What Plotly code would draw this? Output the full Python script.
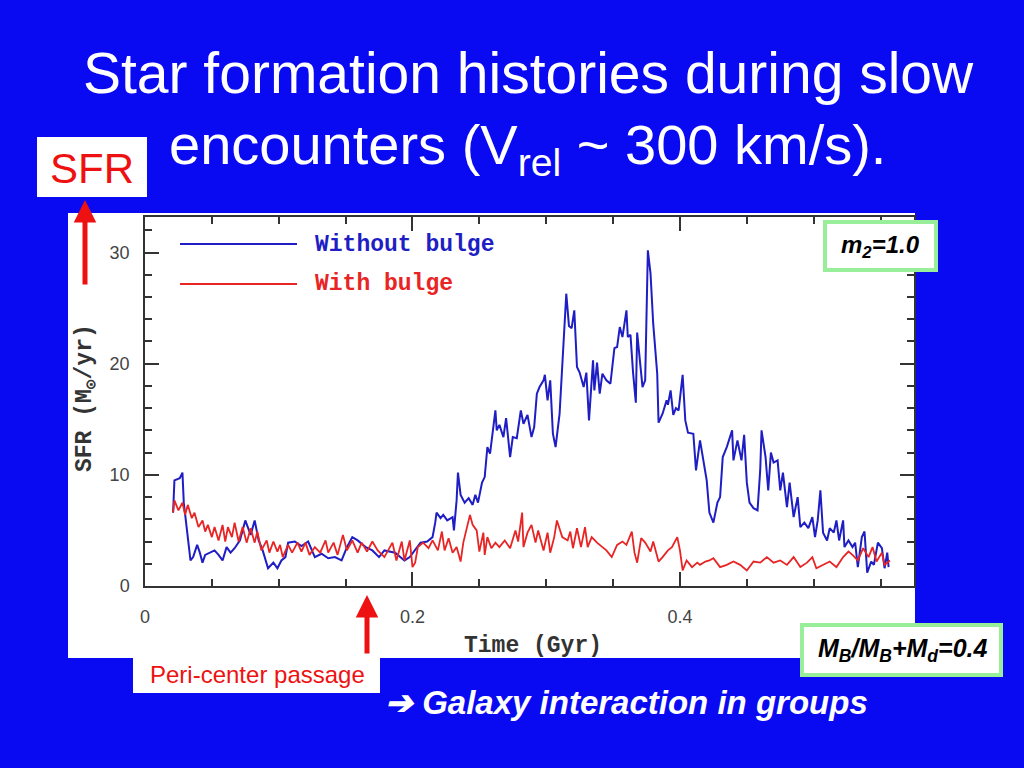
import plotly.graph_objects as go

# ---------------- data ----------------
time_no_bulge = [0.021, 0.022, 0.026, 0.028, 0.029, 0.031, 0.034, 0.036, 0.039, 0.041, 0.043, 0.045,
                 0.049, 0.052, 0.055, 0.058, 0.061, 0.064, 0.067, 0.071, 0.075, 0.079, 0.082, 0.085,
                 0.088, 0.090, 0.092, 0.096, 0.099, 0.102, 0.105, 0.107, 0.112, 0.117, 0.122, 0.127,
                 0.132, 0.137, 0.142, 0.147, 0.151, 0.155, 0.159, 0.165, 0.170, 0.175, 0.179, 0.187,
                 0.194, 0.198, 0.202, 0.206, 0.211, 0.215, 0.217, 0.218, 0.221, 0.223, 0.226, 0.230,
                 0.231, 0.233, 0.234, 0.236, 0.239, 0.242, 0.245, 0.247, 0.249, 0.252, 0.254, 0.256,
                 0.258, 0.259, 0.262, 0.263, 0.265, 0.268, 0.270, 0.273, 0.275, 0.278, 0.281, 0.283,
                 0.286, 0.289, 0.291, 0.293, 0.295, 0.298, 0.299, 0.301, 0.303, 0.305, 0.307, 0.310,
                 0.313, 0.315, 0.317, 0.319, 0.321, 0.323, 0.325, 0.328, 0.330, 0.332, 0.335, 0.336,
                 0.338, 0.340, 0.342, 0.345, 0.348, 0.351, 0.353, 0.355, 0.357, 0.360, 0.361, 0.363,
                 0.365, 0.367, 0.368, 0.370, 0.372, 0.374, 0.376, 0.378, 0.380, 0.383, 0.384, 0.387,
                 0.390, 0.391, 0.393, 0.395, 0.397, 0.399, 0.402, 0.404, 0.406, 0.410, 0.412, 0.415,
                 0.417, 0.420, 0.422, 0.425, 0.428, 0.430, 0.432, 0.435, 0.439, 0.440, 0.443, 0.446,
                 0.448, 0.450, 0.452, 0.455, 0.458, 0.460, 0.461, 0.464, 0.466, 0.468, 0.470, 0.473,
                 0.475, 0.477, 0.480, 0.482, 0.485, 0.488, 0.490, 0.493, 0.496, 0.499, 0.501, 0.503,
                 0.505, 0.507, 0.510, 0.512, 0.515, 0.517, 0.519, 0.522, 0.523, 0.526, 0.529, 0.531,
                 0.533, 0.536, 0.538, 0.540, 0.543, 0.545, 0.548, 0.551, 0.553, 0.555, 0.556]
sfr_no_bulge = [6.6, 9.5, 9.7, 10.2, 7.5, 5.3, 2.3, 2.6, 3.7, 3.0, 2.1, 2.8,
                3.0, 3.2, 2.8, 2.3, 3.5, 3.0, 3.4, 4.1, 5.9, 4.6, 5.9, 4.1,
                3.2, 2.3, 1.6, 2.1, 1.6, 2.3, 2.6, 3.9, 4.0, 3.6, 4.0, 2.6,
                2.9, 2.5, 2.6, 2.3, 3.5, 4.4, 4.1, 3.5, 3.2, 2.6, 3.2, 3.0,
                2.3, 2.6, 3.2, 3.9, 4.0, 4.4, 5.7, 6.6, 6.1, 6.4, 5.9, 6.2,
                5.0, 7.7, 10.2, 8.2, 7.5, 7.9, 7.3, 8.2, 7.5, 9.3, 9.8, 12.5,
                11.9, 12.8, 15.8, 14.0, 14.5, 13.4, 15.1, 11.6, 13.4, 13.3, 15.8, 14.6,
                15.4, 13.4, 14.3, 17.3, 17.9, 18.5, 19.0, 16.7, 18.5, 13.7, 12.5, 15.5,
                22.1, 26.3, 23.4, 23.2, 24.8, 19.7, 19.2, 17.9, 19.2, 14.9, 20.3, 17.6,
                20.1, 17.3, 19.1, 18.5, 18.2, 21.4, 21.5, 23.3, 22.4, 24.8, 22.4, 22.6,
                19.1, 16.5, 22.8, 20.6, 17.9, 18.5, 30.2, 28.1, 23.6, 19.1, 14.7, 15.5,
                16.7, 16.3, 17.6, 15.4, 16.0, 15.8, 19.0, 14.9, 13.8, 13.7, 10.4, 13.1,
                11.6, 9.5, 6.6, 5.7, 7.5, 8.0, 11.6, 12.5, 14.0, 11.3, 13.1, 11.3,
                13.6, 9.3, 7.5, 7.0, 6.8, 10.4, 14.0, 11.6, 8.6, 12.0, 11.1, 11.3,
                8.6, 10.2, 7.1, 9.3, 6.2, 8.0, 5.3, 5.7, 5.2, 6.2, 4.4, 5.9,
                8.6, 4.8, 4.1, 5.2, 4.8, 5.9, 4.1, 5.9, 3.5, 4.1, 3.5, 3.9,
                1.7, 4.4, 4.9, 1.2, 2.2, 1.9, 3.9, 3.4, 1.6, 3.0, 1.7]

time_bulge = [0.021, 0.022, 0.025, 0.028, 0.030, 0.032, 0.035, 0.037, 0.040, 0.043, 0.045, 0.047,
              0.050, 0.052, 0.055, 0.058, 0.060, 0.062, 0.065, 0.067, 0.070, 0.073, 0.076, 0.079,
              0.082, 0.084, 0.087, 0.091, 0.093, 0.096, 0.099, 0.101, 0.103, 0.107, 0.110, 0.114,
              0.117, 0.120, 0.123, 0.127, 0.131, 0.135, 0.137, 0.141, 0.144, 0.148, 0.151, 0.155,
              0.159, 0.162, 0.166, 0.170, 0.174, 0.179, 0.185, 0.188, 0.192, 0.194, 0.198, 0.200,
              0.202, 0.204, 0.208, 0.212, 0.215, 0.219, 0.222, 0.224, 0.227, 0.230, 0.233, 0.236,
              0.238, 0.241, 0.243, 0.245, 0.248, 0.250, 0.253, 0.254, 0.256, 0.259, 0.262, 0.265,
              0.269, 0.273, 0.277, 0.279, 0.282, 0.283, 0.286, 0.289, 0.292, 0.294, 0.298, 0.301,
              0.303, 0.306, 0.308, 0.312, 0.316, 0.318, 0.320, 0.323, 0.326, 0.329, 0.331, 0.334,
              0.338, 0.342, 0.345, 0.349, 0.353, 0.357, 0.360, 0.364, 0.366, 0.368, 0.371, 0.374,
              0.378, 0.380, 0.384, 0.387, 0.391, 0.394, 0.398, 0.400, 0.402, 0.405, 0.409, 0.413,
              0.415, 0.419, 0.422, 0.425, 0.430, 0.435, 0.440, 0.445, 0.450, 0.455, 0.460, 0.465,
              0.470, 0.475, 0.480, 0.485, 0.490, 0.495, 0.499, 0.502, 0.507, 0.512, 0.517, 0.522,
              0.526, 0.529, 0.533, 0.537, 0.541, 0.544, 0.547, 0.551, 0.553, 0.557]
sfr_bulge = [6.6, 7.7, 6.8, 7.5, 6.4, 7.3, 6.1, 6.6, 5.3, 5.9, 4.9, 5.5,
             4.4, 5.3, 4.1, 5.5, 4.0, 5.3, 4.4, 5.7, 4.0, 5.3, 3.9, 5.2,
             3.9, 4.9, 3.2, 4.1, 3.0, 4.0, 3.1, 3.7, 2.6, 3.7, 3.0, 3.9,
             3.1, 3.9, 2.8, 3.5, 3.0, 4.1, 3.0, 3.9, 2.8, 4.6, 3.2, 4.1,
             3.0, 3.9, 3.1, 4.0, 3.2, 2.6, 3.9, 2.3, 4.0, 2.3, 4.1, 1.7,
             2.1, 3.5, 3.9, 3.4, 4.1, 3.2, 4.9, 3.2, 4.3, 3.0, 3.5, 2.2,
             3.9, 5.3, 6.4, 5.5, 5.0, 3.1, 4.8, 2.8, 4.4, 3.4, 3.9, 3.5,
             4.1, 3.4, 5.0, 4.0, 6.6, 3.5, 4.8, 5.5, 3.9, 5.0, 3.2, 4.8,
             3.0, 4.4, 5.9, 4.4, 4.1, 4.9, 3.4, 5.2, 3.5, 5.3, 3.5, 4.4,
             3.9, 3.5, 3.2, 2.6, 3.7, 4.0, 3.7, 4.9, 3.0, 2.1, 4.3, 3.9,
             3.1, 4.0, 2.2, 2.6, 3.2, 3.5, 4.4, 3.2, 1.4, 2.3, 1.7, 2.1,
             1.9, 2.2, 2.3, 2.5, 1.7, 1.9, 2.2, 1.9, 1.4, 2.2, 2.1, 2.6,
             2.1, 2.3, 1.9, 2.6, 1.7, 2.1, 2.6, 1.6, 1.9, 2.2, 1.7, 2.6,
             3.1, 2.8, 2.3, 3.4, 2.6, 3.5, 2.2, 3.0, 1.9, 2.3]

series_names = ["Without bulge", "With bulge"]
series_colors = ["#1e1ec4", "#e82424"]
x_tick_vals = [0, 0.2, 0.4]
x_tick_text = ["0", "0.2", "0.4"]
y_tick_vals = [0, 10, 20, 30]
y_tick_text = ["0", "10", "20", "30"]

# ---------------- layout helpers (pixel -> paper) ----------------
W, H = 1024, 768
L, R, T, B = 145, 914, 217, 586
def px(x):
    return (x - L) / (R - L)
def py(y):
    return (B - y) / (B - T)

BG = "#0a0af2"
AX = "#333333"

fig = go.Figure()
fig.add_trace(go.Scatter(x=time_no_bulge, y=sfr_no_bulge, mode="lines", name=series_names[0],
                         line=dict(color=series_colors[0], width=2), showlegend=False))
fig.add_trace(go.Scatter(x=time_bulge, y=sfr_bulge, mode="lines", name=series_names[1],
                         line=dict(color=series_colors[1], width=1.8), showlegend=False))

axis_common = dict(showline=True, linecolor=AX, linewidth=1.5, mirror="ticks",
                   ticks="inside", tickcolor=AX, tickwidth=1.5, ticklen=14,
                   showgrid=False, zeroline=False,
                   tickfont=dict(family="Liberation Sans, Arial", size=18, color="#444444"))

fig.update_xaxes(range=[0, 0.575], tickvals=x_tick_vals, ticktext=x_tick_text,
                 minor=dict(dtick=0.05, ticks="inside", ticklen=7, tickcolor=AX, tickwidth=1.5),
                 ticklabelstandoff=14, **axis_common)
fig.update_yaxes(range=[0, 33.2], tickvals=y_tick_vals, ticktext=y_tick_text,
                 minor=dict(dtick=2, ticks="inside", ticklen=7, tickcolor=AX, tickwidth=1.5),
                 ticklabelstandoff=10, **axis_common)

shapes = [
    # white picture background
    dict(type="rect", xref="paper", yref="paper", x0=px(68), x1=px(915), y0=py(658), y1=py(213),
         fillcolor="white", line=dict(width=0), layer="below"),
    # legend samples
    dict(type="line", xref="paper", yref="paper", x0=px(180), x1=px(297), y0=py(244), y1=py(244),
         line=dict(color=series_colors[0], width=1.8)),
    dict(type="line", xref="paper", yref="paper", x0=px(180), x1=px(297), y0=py(284), y1=py(284),
         line=dict(color=series_colors[1], width=1.8)),
    # SFR box
    dict(type="rect", xref="paper", yref="paper", x0=px(37), x1=px(147), y0=py(197), y1=py(137),
         fillcolor="white", line=dict(width=0)),
    # Peri-center box
    dict(type="rect", xref="paper", yref="paper", x0=px(133), x1=px(380), y0=py(693), y1=py(657),
         fillcolor="white", line=dict(width=0)),
    # m2 box
    dict(type="rect", xref="paper", yref="paper", x0=px(825), x1=px(936), y0=py(270), y1=py(222),
         fillcolor="white", line=dict(color="#99ee99", width=4), layer="above"),
    # MB box
    dict(type="rect", xref="paper", yref="paper", x0=px(802), x1=px(1001), y0=py(675), y1=py(625),
         fillcolor="white", line=dict(color="#99ee99", width=4), layer="above"),
]

mono = "Liberation Mono, Courier New, monospace"
sans = "Liberation Sans, Arial"
annots = [
    dict(text="Star formation histories during slow", x=px(528), y=py(73),
         font=dict(family=sans, size=57, color="white")),
    dict(text="encounters (V<sub>rel</sub> ~ 300 km/s).", x=px(527), y=py(148),
         font=dict(family=sans, size=56, color="white")),
    dict(text="SFR", x=px(92), y=py(168), font=dict(family=sans, size=42, color="#ee1111")),
    dict(text="<b>" + series_names[0] + "</b>", x=px(313), y=py(245), xanchor="left",
         font=dict(family=mono, size=23, color=series_colors[0])),
    dict(text="<b>" + series_names[1] + "</b>", x=px(313), y=py(284), xanchor="left",
         font=dict(family=mono, size=23, color=series_colors[1])),
    dict(text="<b>Time (Gyr)</b>", x=px(533), y=py(646),
         font=dict(family=mono, size=23, color="#333333")),
    dict(text="<b>SFR (M<sub>⊙</sub>/yr)</b>", x=px(86), y=py(398), textangle=-90,
         font=dict(family=mono, size=23, color="#333333")),
    dict(text="<b><i>m<sub>2</sub>=1.0</i></b>", x=px(880), y=py(246),
         font=dict(family=sans, size=24, color="black")),
    dict(text="<b><i>M<sub>B</sub>/M<sub>B</sub>+M<sub>d</sub>=0.4</i></b>", x=px(902), y=py(650),
         font=dict(family=sans, size=25, color="black")),
    dict(text="Peri-center passage", x=px(257), y=py(674),
         font=dict(family=sans, size=24, color="#ee1111")),
    dict(text="<b><i>➔ Galaxy interaction in groups</i></b>", x=px(626), y=py(702),
         font=dict(family=sans, size=33, color="white")),
    # arrows
    dict(text="", x=px(85), y=py(200), ax=0, ay=86, showarrow=True, arrowhead=2,
         arrowsize=0.9, arrowwidth=5, arrowcolor="#ee1111"),
    dict(text="", x=px(367), y=py(595), ax=0, ay=60, showarrow=True, arrowhead=2,
         arrowsize=0.9, arrowwidth=5, arrowcolor="#ee1111"),
]
for a in annots:
    a.setdefault("xref", "paper")
    a.setdefault("yref", "paper")
    a.setdefault("showarrow", False)
    a.setdefault("xanchor", "center")
    a.setdefault("yanchor", "middle")

fig.update_layout(width=W, height=H, autosize=False,
                  margin=dict(l=L, r=W - R, t=T, b=H - B, pad=0),
                  paper_bgcolor=BG, plot_bgcolor="white",
                  shapes=shapes, annotations=annots, showlegend=False)

fig.write_html("out.html", config={"displayModeBar": False},
               post_script="document.body.style.margin='0';document.body.style.overflow='hidden';"
                           "document.body.style.background='" + BG + "';")
